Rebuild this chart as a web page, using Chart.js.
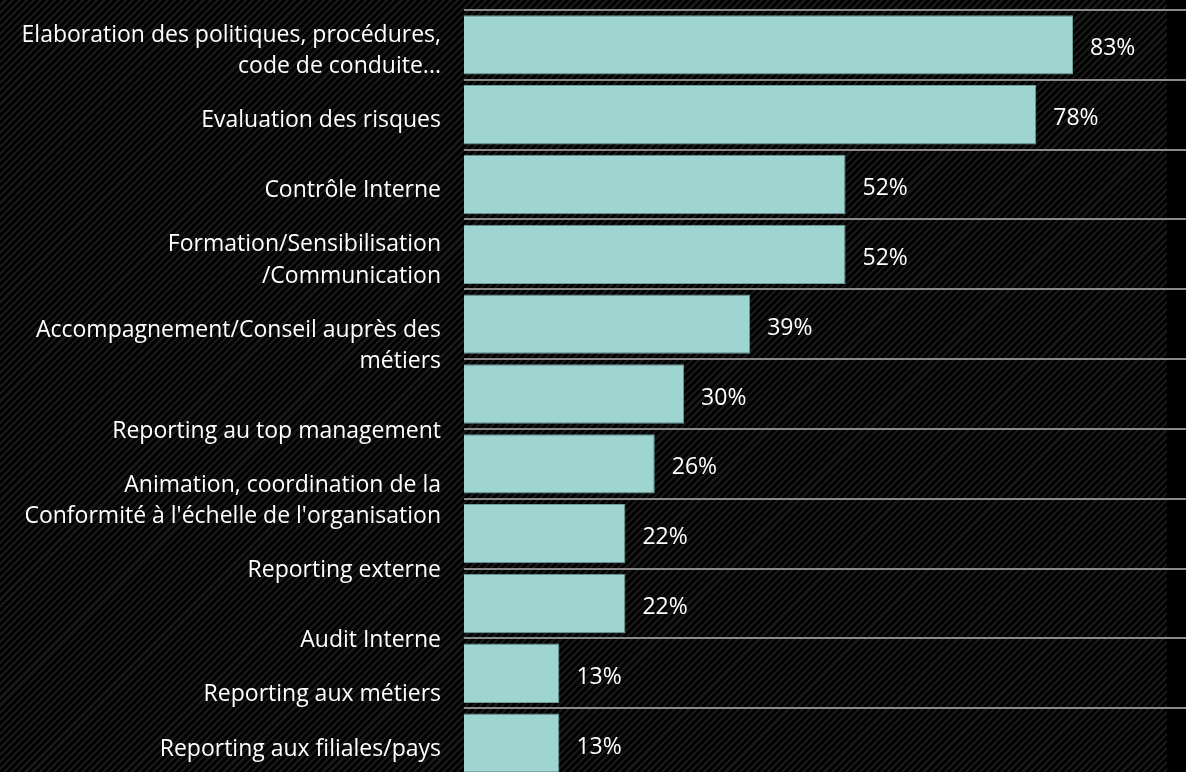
<!DOCTYPE html>
<html lang="fr">
<head>
<meta charset="utf-8">
<title>Missions de la Conformité</title>
<script src="https://cdn.jsdelivr.net/npm/chart.js@4/dist/chart.umd.min.js"></script>
<style>
  html, body { margin: 0; padding: 0; background: #000; overflow: hidden; }
  .wrap { position: relative; width: 1186px; height: 790px; }
  /* fine diagonal hatching behind the chart */
  .hatch {
    position: absolute; left: 0; top: 0; width: 1167px; height: 100%;
    background: repeating-linear-gradient(135deg, #000 0 2.8px, #191919 2.8px 5px);
  }
  canvas { position: absolute; left: 0; top: 0; }
</style>
</head>
<body>
<div class="wrap">
  <div class="hatch"></div>
  <canvas id="missionsChart" width="1186" height="790"></canvas>
</div>
<script>
// categories (blank lines push some labels down under their bar)
const categories = [
  ['Elaboration des politiques, procédures,', 'code de conduite...'],
  'Evaluation des risques',
  'Contrôle Interne',
  ['Formation/Sensibilisation', '/Communication'],
  ['', 'Accompagnement/Conseil auprès des', 'métiers'],
  ['', '', 'Reporting au top management'],
  ['', '', 'Animation, coordination de la', "Conformité à l'échelle de l'organisation"],
  ['', '', 'Reporting externe'],
  ['', '', 'Audit Interne'],
  ['', 'Reporting aux métiers'],
  'Reporting aux filiales/pays'
];
const shares = [83, 78, 52, 52, 39, 30, 26, 22, 22, 13, 13];

const FONT = '"Open Sans", sans-serif';

// draws "xx%" to the right of each bar
const valueLabels = {
  id: 'valueLabels',
  afterDatasetsDraw(chart) {
    const ctx = chart.ctx;
    const meta = chart.getDatasetMeta(0);
    ctx.save();
    ctx.font = '23px ' + FONT;
    ctx.fillStyle = '#ffffff';
    ctx.textAlign = 'left';
    ctx.textBaseline = 'middle';
    meta.data.forEach((bar, i) => {
      ctx.fillText(shares[i] + '%', bar.x + 17, bar.y + 4);
    });
    ctx.restore();
  }
};

new Chart(document.getElementById('missionsChart'), {
  type: 'bar',
  data: {
    labels: categories,
    datasets: [{
      data: shares,
      backgroundColor: '#9ed5d1',
      borderColor: '#6f9d9a',
      borderWidth: 1,
      barPercentage: 0.85,
      categoryPercentage: 1
    }]
  },
  options: {
    indexAxis: 'y',
    responsive: false,
    animation: false,
    layout: { padding: { top: 10, bottom: 12, left: 0, right: 0 } },
    plugins: { legend: { display: false }, tooltip: { enabled: false } },
    scales: {
      x: { display: false, min: 0, max: 98.4 },
      y: {
        afterFit: (s) => { s.width = 464; s.paddingTop = 0; s.paddingBottom = 0; },
        border: { display: false },
        grid: { color: '#8a8a8a', lineWidth: 2, drawTicks: false, offset: true },
        ticks: {
          autoSkip: false,
          color: '#ffffff',
          padding: 23,
          labelOffset: 6,
          font: { family: FONT, size: 23, lineHeight: 1.36 }
        }
      }
    }
  },
  plugins: [valueLabels]
});
</script>
</body>
</html>
